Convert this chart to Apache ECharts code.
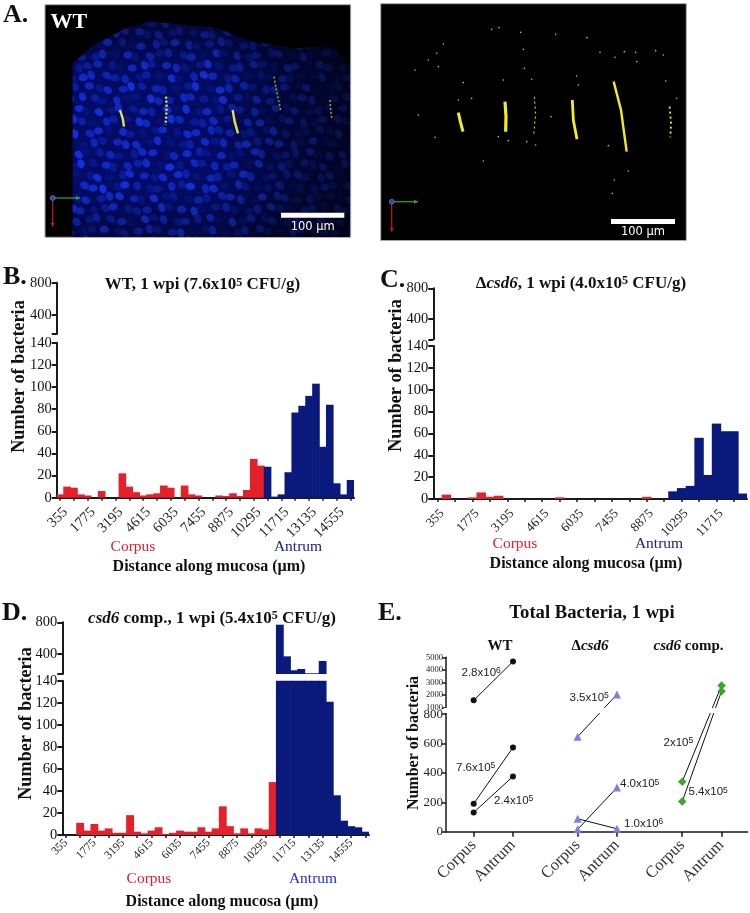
<!DOCTYPE html>
<html><head><meta charset="utf-8">
<style>html,body{margin:0;padding:0;background:#fff}#c{width:750px;height:913px}</style>
<script src="https://cdn.jsdelivr.net/npm/echarts@6/dist/echarts.min.js"></script>
</head><body><div id="c"></div>
<script>
// ---------- data ----------
const binStep = 355;
const wtValues = [3,10,9,3,2,0,6,0,0,22,10,5,2,3,4,11,9,0,11,3,2,0,0,2,1.5,4,1.5,7,35,29,28,1,3,23,77,83,92,103,46,84,13,3,16];
const wtCorpusBins = 30;
const csd6Values = [0,4,0,0,1.5,6,2,3,0,0,0,0,0,0,1.5,0,0,0,0,0,0,0,0,0,2,0,0,7,10,12,56,22,69,62,62,5];
const csd6CorpusBins = 27;
const compValues = [0,0,11,4,10,4,6,2,2,18,3,1.5,4,7,1,2,4,3,3,7,3,6,26,8,1.5,6,1.5,6,5,48,770,370,194,210,156,156,312,121,36,13,8,7,3];
const compCorpusBins = 30;
const totalTicksLow = [0,200,400,600,800];
const totalTicksHigh = [1000,2000,3000,4000,5000];
const totalX = {corpus1:1,antrum1:2,corpus2:3.644,antrum2:4.644,corpus3:6.305,antrum3:7.305};
const wtHigh = [1580,4660];
const wtMid = [190,573];
const wtLow = [131,376];
const dHigh = [646,2050];
const dMid = [16,300];
const dLow = [88,20];
const compA = [340,2760];
const compB = [205,2310];

// ---------- helpers ----------
const SERIF='"Liberation Serif",serif', SANS='"Liberation Sans",sans-serif';
const RED='#e5202b', NAVY='#0a1a7c', AX='#1a1a1a';
const binLabels = vals => vals.map((_,i)=>String(binStep*(i+1)));
const grid=[],xAxis=[],yAxis=[],series=[],graphic=[],title=[];

function histogram(cfg){
  const g=grid.length, w=cfg.right-cfg.left, labels=binLabels(cfg.vals);
  const bw=w/cfg.vals.length+0.7;
  grid.push({left:cfg.left,width:w,top:cfg.upTop,height:cfg.upBot-cfg.upTop});
  grid.push({left:cfg.left,width:w,top:cfg.lowTop,height:cfg.lowBot-cfg.lowTop});
  const cat={type:'category',data:labels};
  xAxis.push({...cat,gridIndex:g,show:false});
  xAxis.push({...cat,gridIndex:g+1,
    axisLine:{onZero:false,lineStyle:{color:AX,width:2}},
    axisTick:{show:true,alignWithLabel:true,interval:1,length:3,lineStyle:{color:AX,width:1.5}},
    axisLabel:{interval:3,rotate:45,fontFamily:SERIF,fontSize:cfg.xFont,color:'#222',margin:cfg.xMargin,verticalAlign:cfg.xVA}});
  yAxis.push({type:'value',gridIndex:g,min:cfg.upMin,max:800,splitLine:{show:false},
    axisLine:{show:true,lineStyle:{color:AX,width:2}},
    axisTick:{show:true,length:5,customValues:[cfg.upMin,400,800],lineStyle:{color:AX,width:2}},
    axisLabel:{customValues:[400,800],fontFamily:SERIF,fontSize:cfg.yFont,color:'#111',margin:5}});
  yAxis.push({type:'value',gridIndex:g+1,min:0,max:140,interval:20,splitLine:{show:false},
    axisLine:{show:true,onZero:false,lineStyle:{color:AX,width:2}},
    axisTick:{show:true,length:5,lineStyle:{color:AX,width:2}},
    axisLabel:{fontFamily:SERIF,fontSize:cfg.yFont,color:'#111',margin:5}});
  [g,g+1].forEach(ix=>{
    series.push({type:'bar',name:'Corpus',xAxisIndex:ix,yAxisIndex:ix,barWidth:bw,barGap:'-100%',
      itemStyle:{color:RED},silent:true,animation:false,
      data:cfg.vals.map((v,i)=>i<cfg.corpus?v:null)});
    series.push({type:'bar',name:'Antrum',xAxisIndex:ix,yAxisIndex:ix,barWidth:bw,barGap:'-100%',
      itemStyle:{color:NAVY},silent:true,animation:false,
      data:cfg.vals.map((v,i)=>i>=cfg.corpus?v:null)});
  });
}
function txt(s,x,y,o={}){
  graphic.push({type:'text',x,y,rotation:o.rot||0,z:60,style:{text:s,align:o.align||'center',verticalAlign:'middle',
    fontFamily:o.family||SERIF,fontSize:o.size||15,fontWeight:o.weight||'normal',fontStyle:o.italic?'italic':'normal',
    fill:o.color||'#111',rich:o.rich}});
}
const boldRich=(sz)=>({b:{fontFamily:SERIF,fontSize:sz,fontWeight:'bold',fill:'#111',color:'#111'},
  i:{fontFamily:SERIF,fontSize:sz,fontWeight:'bold',fontStyle:'italic',fill:'#111',color:'#111'},
  s:{fontFamily:SERIF,fontSize:Math.round(sz*.72),fontWeight:'bold',fill:'#111',color:'#111',verticalAlign:'top'}});
const sciRich={n:{fontFamily:SANS,fontSize:11.5,fill:'#222'},s:{fontFamily:SANS,fontSize:8.5,fill:'#222',verticalAlign:'top'}};
function sci(m,e,x,y){txt(`{n|${m}x10}{s|${e}}`,x,y,{align:'left',family:SANS,rich:sciRich});}

// ---------- histograms ----------
histogram({vals:wtValues,corpus:wtCorpusBins,left:56.7,right:354,upTop:282.7,upBot:334,upMin:165,lowTop:342.7,lowBot:497.7,xFont:14.5,yFont:14.5,xMargin:7,xVA:'top'});
histogram({vals:csd6Values,corpus:csd6CorpusBins,left:433.3,right:747,upTop:288.3,upBot:339.3,upMin:136,lowTop:346,lowBot:499,xFont:13,yFont:14.5,xMargin:8,xVA:'top'});
histogram({vals:compValues,corpus:compCorpusBins,left:62.3,right:369,upTop:622.3,upBot:674,upMin:147,lowTop:680.7,lowBot:835,xFont:11.5,yFont:14.5,xMargin:6});

// ---------- panel E: one axis, values above the break drawn compressed ----------
const BREAK_AT=844, HIGH_K=0.0857;
const toAxis=v=>v<=800?v:BREAK_AT+(v-1000)*HIGH_K;
const fromAxis=d=>d<=800?d:Math.round((d-BREAK_AT)/HIGH_K+1000);
const eIdx=grid.length;
const xs=[totalX.corpus1,totalX.antrum1,totalX.corpus2,totalX.antrum2,totalX.corpus3,totalX.antrum3];
grid.push({left:446,width:301.7,top:657.3,height:174.4});
xAxis.push({type:'value',gridIndex:eIdx,min:0.2965,max:7.97,splitLine:{show:false},
  axisLine:{onZero:false,lineStyle:{color:AX,width:1.5}},
  axisTick:{show:true,length:5,customValues:xs,lineStyle:{color:AX,width:1.5}},
  axisLabel:{customValues:xs,rotate:45,margin:11,fontFamily:SERIF,fontSize:16.5,color:'#333',
    formatter:v=>[totalX.corpus1,totalX.corpus2,totalX.corpus3].includes(v)?'Corpus':'Antrum'}});
const yCustom=[...totalTicksLow,...totalTicksHigh].map(toAxis);
yAxis.push({type:'value',gridIndex:eIdx,min:0,max:toAxis(5000),splitLine:{show:false},
  axisLine:{show:true,onZero:false,lineStyle:{color:AX,width:1.5}},
  axisTick:{show:true,length:4,customValues:yCustom,lineStyle:{color:AX,width:1.5}},
  axisLabel:{customValues:yCustom,margin:3,color:'#222',
    formatter:d=>{const v=fromAxis(d);return v>800?`{s|${v}}`:`{b|${v}}`;},
    rich:{s:{fontFamily:SERIF,fontSize:8.5,color:'#222'},b:{fontFamily:SERIF,fontSize:13,color:'#222'}}}});
function pair(vals,x0,x1,symbol,size,color){
  series.push({type:'line',xAxisIndex:eIdx,yAxisIndex:eIdx,symbol,symbolSize:size,animation:false,silent:true,
    lineStyle:{color:'#111',width:1},itemStyle:{color},clip:false,
    data:[[x0,toAxis(vals[0])],[x1,toAxis(vals[1])]]});
}
[wtHigh,wtMid,wtLow].forEach(v=>pair(v,totalX.corpus1,totalX.antrum1,'circle',6,'#111'));
[dHigh,dMid,dLow].forEach(v=>pair(v,totalX.corpus2,totalX.antrum2,'triangle',8,'#7b7fe6'));
[compA,compB].forEach(v=>pair(v,totalX.corpus3,totalX.antrum3,'diamond',8.5,'#3fa32f'));
graphic.push({type:'rect',z:50,shape:{x:444,y:708,width:304,height:5},style:{fill:'#fff'}});

sci('2.8','6',461.5,672.5); sci('7.6','5',456,767.5); sci('2.4','5',494,800.5);
sci('3.5','5',569.5,697.5); sci('4.0','5',620,784); sci('1.0','6',624,823.5);
sci('2','5',663.5,742.5); sci('5.4','5',688.5,792);

// ---------- titles & labels ----------
title.push({text:'{b|WT, 1 wpi (7.6x10}{s|5}{b| CFU/g)}',left:197.5,top:271.5,textAlign:'center',textStyle:{rich:boldRich(17)}});
title.push({text:'{b|Δ}{i|csd6}{b|, 1 wpi (4.0x10}{s|5}{b| CFU/g)}',left:576,top:270,textAlign:'center',textStyle:{rich:boldRich(17)}});
title.push({text:'{i|csd6}{b| comp., 1 wpi (5.4x10}{s|5}{b| CFU/g)}',left:207,top:605,textAlign:'center',textStyle:{rich:boldRich(17)}});
title.push({text:'{b|Total Bacteria, 1 wpi}',left:587,top:599,textAlign:'center',textStyle:{rich:boldRich(18.7)}});
txt('{b|WT}',500,646,{rich:boldRich(15)});
txt('{b|Δ}{i|csd6}',590,646,{rich:boldRich(15)});
txt('{i|csd6}{b| comp.}',688.5,646,{rich:boldRich(15)});

const ROT=Math.PI/2;
txt('Number of bacteria',19.5,376.5,{rot:ROT,size:18.2,weight:'bold'});
txt('Number of bacteria',396.5,375.5,{rot:ROT,size:18.2,weight:'bold'});
txt('Number of bacteria',26,723.5,{rot:ROT,size:18.2,weight:'bold'});
txt('Number of bacteria',413.5,743,{rot:ROT,size:16,weight:'bold'});

txt('Corpus',133,547,{size:15.5,color:'#df2030'}); txt('Antrum',298,547,{size:15.5,color:'#1a237e'});
txt('Distance along mucosa (µm)',209,566.7,{size:16,weight:'bold'});
txt('Corpus',515,544,{size:15.5,color:'#df2030'}); txt('Antrum',659,544,{size:15.5,color:'#1a237e'});
txt('Distance along mucosa (µm)',586,564,{size:16,weight:'bold'});
txt('Corpus',149,879,{size:15.5,color:'#df2030'}); txt('Antrum',313,879,{size:15.5,color:'#2430c8'});
txt('Distance along mucosa (µm)',222,902,{size:16,weight:'bold'});

[['A.',3,15],['B.',3,277],['C.',380,280],['D.',2,613],['E.',378,613]].forEach(p=>
  txt(p[0],p[1],p[2],{align:'left',size:26,weight:'bold'}));

// ---------- panel A micrographs (illustration, not data) ----------
function tile(){
  const S=264,c=document.createElement('canvas');c.width=c.height=S;const x=c.getContext('2d');
  x.fillStyle='#030d78';x.fillRect(0,0,S,S);
  x.filter='blur(0.7px)';
  const cols=['#1030e6','#0b24c4','#1638fb','#0a1eae','#1232ee','#0818a0','#0e2cda','#06148c'];
  let n=0;
  for(let r=0;r<24;r++)for(let q=0;q<24;q++){
    const px=q*11+(r%2?5.5:0)+2.4*Math.sin(r*1.7+q*2.3), py=r*11+2.2*Math.sin(q*1.3+r*.9);
    n+=3+(q*r)%5;
    x.fillStyle=cols[n%cols.length];
    [[0,0],[S,0],[-S,0],[0,S],[0,-S]].forEach(o=>{
      x.beginPath();x.ellipse(px+o[0],py+o[1],4.6,3.6,(q*2+r)%3*.6,0,7);x.fill();
    });
  }
  return c;
}
const pat={image:tile(),repeat:'repeat'};
const Z=(zx,zy,ox=0)=>[ox+zx/3,zy/3];
graphic.push({type:'rect',z:1,shape:{x:45,y:4.7,width:305.7,height:232.6},style:{fill:'#000',stroke:'#aaa',lineWidth:1}});
const tissue=[[218,190],[290,130],[380,85],[450,65],[560,75],[650,85],[760,125],[880,145],[1000,140],[1048,200],[1048,711],[218,711]].map(p=>Z(p[0],p[1]));
graphic.push({type:'polygon',z:2,shape:{points:tissue},style:{fill:pat}});
graphic.push({type:'polygon',z:3,shape:{points:tissue},style:{fill:{type:'linear',x:0,y:0,x2:1,y2:0,colorStops:[{offset:0,color:'rgba(0,0,0,0.12)'},{offset:.5,color:'rgba(0,0,0,0.15)'},{offset:.75,color:'rgba(0,0,0,0.5)'},{offset:1,color:'rgba(0,0,0,0.72)'}]}}});
graphic.push({type:'polygon',z:3,shape:{points:tissue},style:{fill:{type:'linear',x:0,y:0,x2:0,y2:1,colorStops:[{offset:0,color:'rgba(0,0,0,0.45)'},{offset:.25,color:'rgba(0,0,0,0.05)'},{offset:.75,color:'rgba(0,0,0,0)'},{offset:1,color:'rgba(0,0,0,0.35)'}]}}});
[[[360,330],[368,355],[372,380]],[[498,290],[500,320],[497,375]],[[698,330],[704,365],[714,400]],[[822,230],[830,275],[842,330]],[[990,300],[992,330],[996,360]]].forEach((l,i)=>
  graphic.push({type:'polyline',z:4,shape:{points:l.map(p=>Z(p[0],p[1]))},style:{stroke:i<3?'#e8e040':'#a8a020',lineWidth:i<3?2.4:1.5,fill:null,lineDash:i==1||i>2?[2,2]:null}}));

graphic.push({type:'rect',z:1,shape:{x:380.7,y:3.7,width:305.6,height:236.8},style:{fill:'#000',stroke:'#aaa',lineWidth:1}});
[[[250,338],[256,365],[264,395],3],[[390,305],[393,350],[392,395],3.2],[[592,300],[595,360],[606,418],2.8],[[716,245],[738,330],[755,455],2.4],[[884,320],[888,370],[886,412],1.8],[[478,290],[482,340],[476,405],1]].forEach(l=>
  graphic.push({type:'polyline',z:2,shape:{points:l.slice(0,3).map(p=>Z(p[0],p[1],375))},style:{stroke:'#f5ea28',lineWidth:l[3],fill:null,lineDash:l[3]<2?[2,3]:null}}));
[[350,88],[372,83],[437,97],[542,103],[636,113],[205,132],[185,160],[120,210],[160,180],[445,148],[675,157],[748,155],[782,157],[842,152],[865,165],[720,172],[785,185],[385,240],[470,238],[605,228],[610,255],[265,248],[130,345],[180,412],[325,483],[482,435],[455,425],[760,513],[718,540],[712,580],[528,350],[905,295],[872,243],[190,200],[448,205],[250,300],[290,295],[370,410],[400,422],[700,437]].forEach(p=>{
  const q=Z(p[0],p[1],375);
  graphic.push({type:'circle',z:2,shape:{cx:q[0],cy:q[1],r:.8},style:{fill:'#c9c030'}});
});
txt('WT',50.5,22.7,{align:'left',size:22,weight:'bold',color:'#fff'});
graphic.push({type:'rect',z:5,shape:{x:281,y:212.7,width:63.3,height:5},style:{fill:'#fff'}});
graphic.push({type:'rect',z:5,shape:{x:611,y:219,width:64,height:5},style:{fill:'#fff'}});
txt('100 µm',312.7,226.7,{family:'"DejaVu Sans",sans-serif',size:11.5,color:'#fff'});
txt('100 µm',643,232,{family:'"DejaVu Sans",sans-serif',size:11.5,color:'#fff'});
[[52.7,198,80,226.7,'#2eaa2e','#c01828'],[391.7,201.7,418,231.7,'#2eaa2e','#c01828']].forEach(a=>{
  const [x0,y0,x1,y1,g,r]=a;
  graphic.push({type:'line',z:5,shape:{x1:x0,y1:y0,x2:x1,y2:y0},style:{stroke:g,lineWidth:1.2}});
  graphic.push({type:'polygon',z:5,shape:{points:[[x1-4,y0-2],[x1,y0],[x1-4,y0+2]]},style:{fill:g}});
  graphic.push({type:'line',z:5,shape:{x1:x0,y1:y0,x2:x0,y2:y1},style:{stroke:r,lineWidth:1.2}});
  graphic.push({type:'polygon',z:5,shape:{points:[[x0-2,y1-4],[x0,y1],[x0+2,y1-4]]},style:{fill:r}});
  graphic.push({type:'circle',z:6,shape:{cx:x0,cy:y0,r:2.4},style:{fill:'#2a3cc8',stroke:'#999',lineWidth:.6}});
});

const chart=echarts.init(document.getElementById('c'),null,{renderer:'canvas',width:750,height:913});
chart.setOption({animation:false,backgroundColor:'#fff',title,grid,xAxis,yAxis,series,graphic:{elements:graphic}});
</script></body></html>
